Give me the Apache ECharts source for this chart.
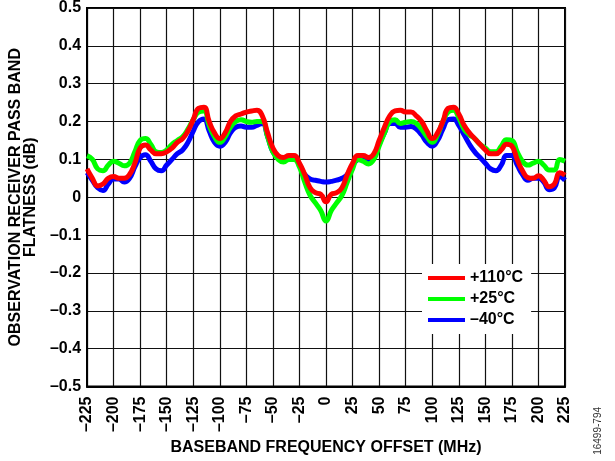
<!DOCTYPE html>
<html>
<head>
<meta charset="utf-8">
<script src="https://cdn.jsdelivr.net/npm/echarts@6/dist/echarts.min.js"></script>
<style>html,body{margin:0;padding:0;background:#fff}#c{width:615px;height:461px}</style>
</head>
<body>
<div id="c"></div>
<script>
var freqs = [-225,-220,-215,-210,-205,-200,-195,-190,-185,-180,-175,-170,-165,-160,-155,-150,-145,-140,-135,-130,-125,-120,-115,-110,-105,-100,-95,-90,-85,-80,-75,-70,-65,-60,-55,-50,-45,-40,-35,-30,-25,-20,-15,-10,-5,0,5,10,15,20,25,30,35,40,45,50,55,60,65,70,75,80,85,90,95,100,105,110,115,120,125,130,135,140,145,150,155,160,165,170,175,180,185,190,195,200,205,210,215,220,225];
var t110 = [0.075,0.05,0.03,0.035,0.05,0.055,0.05,0.05,0.06,0.09,0.13,0.138,0.125,0.115,0.115,0.12,0.13,0.145,0.155,0.175,0.205,0.235,0.238,0.2,0.17,0.155,0.17,0.2,0.215,0.22,0.225,0.228,0.23,0.215,0.17,0.13,0.11,0.105,0.11,0.11,0.09,0.06,0.025,0.012,0.008,-0.012,0.008,0.012,0.025,0.06,0.09,0.11,0.11,0.105,0.115,0.15,0.185,0.215,0.228,0.23,0.225,0.225,0.215,0.2,0.175,0.155,0.17,0.2,0.235,0.238,0.22,0.19,0.17,0.155,0.14,0.125,0.115,0.115,0.125,0.14,0.135,0.1,0.07,0.052,0.05,0.057,0.045,0.028,0.035,0.065,0.058];
var t25 = [0.11,0.1,0.075,0.07,0.085,0.095,0.09,0.083,0.09,0.12,0.15,0.155,0.14,0.12,0.118,0.125,0.14,0.15,0.16,0.18,0.205,0.225,0.228,0.19,0.16,0.145,0.16,0.185,0.2,0.205,0.2,0.198,0.2,0.2,0.16,0.12,0.1,0.093,0.1,0.1,0.08,0.04,0.005,-0.015,-0.035,-0.063,-0.035,-0.015,0.005,0.04,0.075,0.1,0.095,0.088,0.1,0.135,0.17,0.2,0.205,0.195,0.198,0.2,0.195,0.18,0.16,0.145,0.165,0.2,0.225,0.23,0.21,0.18,0.165,0.155,0.14,0.13,0.12,0.12,0.135,0.152,0.15,0.12,0.095,0.085,0.09,0.095,0.085,0.072,0.072,0.1,0.095];
var tm40 = [0.065,0.045,0.025,0.018,0.035,0.048,0.048,0.04,0.05,0.08,0.105,0.112,0.095,0.075,0.07,0.085,0.1,0.115,0.125,0.145,0.175,0.2,0.207,0.175,0.145,0.135,0.145,0.17,0.185,0.188,0.185,0.185,0.19,0.195,0.16,0.12,0.105,0.1,0.105,0.105,0.085,0.06,0.048,0.045,0.042,0.04,0.042,0.045,0.05,0.06,0.085,0.1,0.105,0.1,0.11,0.14,0.17,0.195,0.195,0.185,0.185,0.187,0.18,0.165,0.145,0.135,0.15,0.18,0.205,0.207,0.19,0.165,0.14,0.12,0.105,0.09,0.075,0.07,0.085,0.11,0.11,0.085,0.06,0.045,0.05,0.05,0.04,0.02,0.025,0.055,0.045];
var seriesNames = ['+110°C', '+25°C', '\u201340°C'];
var xTitle = 'BASEBAND FREQUENCY OFFSET (MHz)';
var yTitle = 'OBSERVATION RECEIVER PASS BAND\nFLATNESS (dB)';
var figId = '16499-794';

function pairs(ys){ return freqs.map(function(x,i){ return [x, ys[i]]; }); }
var FONT = '"Liberation Sans", Arial, sans-serif';
var chart = echarts.init(document.getElementById('c'), null, {renderer:'canvas'});
function mkSeries(name, ys, color, z){
  return {name:name, type:'line', data:pairs(ys), showSymbol:false, smooth:true, z:z,
    lineStyle:{color:color, width:5}, itemStyle:{color:color}, animation:false};
}
chart.setOption({
  animation:false,
  grid:{left:83, right:50, top:8, bottom:68, show:true, borderColor:'#000', borderWidth:2},
  xAxis:{type:'value', min:-225, max:225, interval:25,
    axisLine:{show:true, onZero:false, lineStyle:{color:'#000', width:2}},
    axisTick:{show:false},
    splitLine:{show:true, lineStyle:{color:'#111', width:1.2}},
    axisLabel:{rotate:90, margin:10, color:'#000', fontFamily:FONT, fontWeight:'bold', fontSize:16,
      formatter:function(v){ return String(v).replace('-', '\u2013'); }},
    name:xTitle, nameLocation:'middle', nameGap:48,
    nameTextStyle:{color:'#000', fontFamily:FONT, fontWeight:'bold', fontSize:16}
  },
  yAxis:{type:'value', min:-0.5, max:0.5, interval:0.1,
    axisLine:{show:true, onZero:false, lineStyle:{color:'#000', width:2}},
    axisTick:{show:false},
    splitLine:{show:true, lineStyle:{color:'#111', width:1.2}},
    axisLabel:{margin:6, color:'#000', fontFamily:FONT, fontWeight:'bold', fontSize:16,
      formatter:function(v){ var r=Math.round(v*10)/10; if(r===0) return '0'; return r.toFixed(1).replace('-', '\u2013'); }},
    name:yTitle, nameLocation:'middle', nameGap:41,
    nameTextStyle:{color:'#000', fontFamily:FONT, fontWeight:'bold', fontSize:16, lineHeight:15}
  },
  legend:{orient:'vertical', left:422, top:264, data:seriesNames, icon:'rect', itemWidth:37, itemHeight:4,
    itemGap:5, backgroundColor:'#fff', padding:[6,8,6,6],
    textStyle:{color:'#000', fontFamily:FONT, fontWeight:'bold', fontSize:16, lineHeight:15}},
  graphic:[{type:'text', left:593, top:407, rotation:Math.PI/2,
    style:{text:figId, fill:'#333', font:'10px '+FONT}}],
  series:[
    mkSeries(seriesNames[2], tm40, '#0000ff', 2),
    mkSeries(seriesNames[1], t25, '#00ff00', 3),
    mkSeries(seriesNames[0], t110, '#ff0000', 4)
  ]
});
</script>
</body>
</html>
